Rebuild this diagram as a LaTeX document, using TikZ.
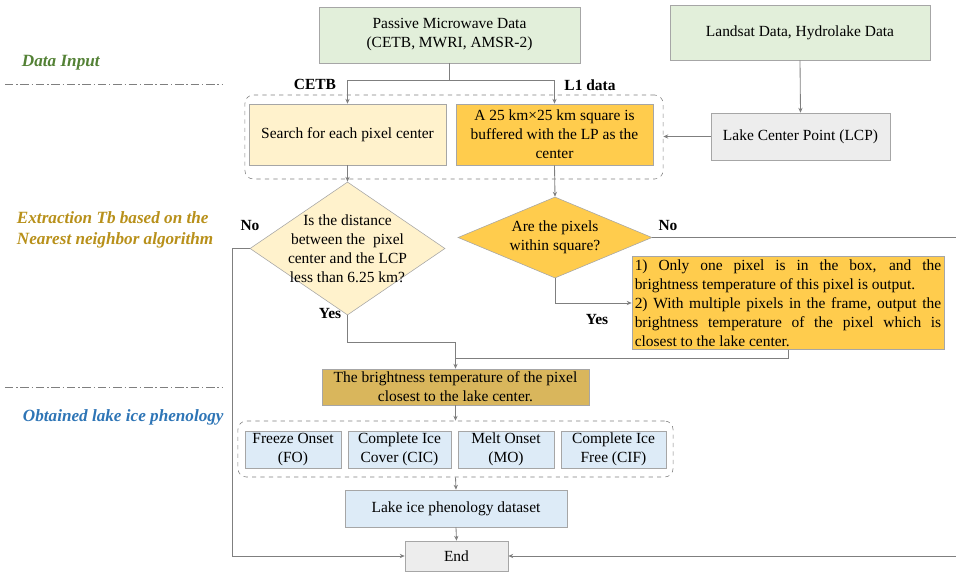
\documentclass[tikz,border=0pt]{standalone}
\usepackage{fontspec}
\setmainfont{Liberation Serif}
\usetikzlibrary{shapes.geometric, arrows.meta}

\definecolor{boxgreen}{HTML}{E2EFDA}
\definecolor{paleyellow}{HTML}{FFF2CC}
\definecolor{deepyellow}{HTML}{FFCC4D}
\definecolor{ochre}{HTML}{D9B65C}
\definecolor{paleblue}{HTML}{DDEBF7}
\definecolor{palegray}{HTML}{EDEDED}
\definecolor{edgegray}{HTML}{A6A6A6}
\definecolor{linegray}{HTML}{7F7F7F}
\definecolor{inputgreen}{HTML}{538135}
\definecolor{extractgold}{HTML}{B8901A}
\definecolor{phenoblue}{HTML}{2E75B6}

\begin{document}
\begin{tikzpicture}[x=0.025cm, y=-0.025cm,
    every node/.style={font=\fontsize{11}{13.5}\selectfont},
    box/.style={draw=edgegray, rectangle, align=center, inner sep=2pt},
    decision/.style={draw=edgegray, diamond, align=center, inner sep=0pt},
    group/.style={draw=linegray, dashed, rounded corners=6pt, rectangle},
    link/.style={draw=linegray, line width=0.6pt},
    arr/.style={link, -{Stealth[length=3.5pt, width=3pt]}},
    lab/.style={font=\fontsize{11}{13.5}\selectfont\bfseries},
    stage/.style={anchor=west, align=left, font=\fontsize{12.2}{15}\selectfont\bfseries\itshape},
    sep/.style={draw=linegray, dash pattern=on 6pt off 2pt on 1pt off 2pt}]
    \useasboundingbox (0,0) rectangle (956,573);

    % stages on the left
    \node[stage, text=inputgreen] (tin) at (17,63) {Data Input};
    \node[stage, text=extractgold] (tex) at (12,230) {Extraction Tb based on the\\Nearest neighbor algorithm};
    \node[stage, text=phenoblue] (tph) at (18,417) {Obtained lake ice phenology};
    \coordinate (s1a) at (5,84);
    \coordinate (s1b) at (222,84);
    \coordinate (s2a) at (5,387);
    \coordinate (s2b) at (222,387);
    \draw[sep] (s1a) -- (s1b);
    \draw[sep] (s2a) -- (s2b);

    % data input
    \node[box, fill=boxgreen, minimum width=6.525cm, minimum height=1.4cm] (pmd) at (449.5,35) {Passive Microwave Data\\(CETB, MWRI, AMSR-2)};
    \node[box, fill=boxgreen, minimum width=6.5cm, minimum height=1.375cm] (land) at (800,32.5) {Landsat Data, Hydrolake Data};

    \node[group, minimum width=10.45cm, minimum height=2.1cm] (grp1) at (454,137) {};
    \node[box, fill=paleyellow, minimum width=4.925cm, minimum height=1.525cm] (search) at (347.5,134.5) {Search for each pixel center};
    \node[box, fill=deepyellow, minimum width=4.925cm, minimum height=1.525cm, inner ysep=0.5pt] (square) at (554.5,134.5) {A 25 km×25 km square is\\buffered with the LP as the\\center};
    \node[box, fill=palegray, minimum width=4.475cm, minimum height=1.175cm] (lcp) at (800.5,136.5) {Lake Center Point (LCP)};

    % extraction
    \node[decision, fill=paleyellow, minimum width=4.875cm, minimum height=3.325cm, shape aspect=1.47, inner sep=-5pt] (near) at (347.5,248.5) {Is the distance\\between the\ \ pixel\\center and the LCP\\less than 6.25 km?};
    \node[decision, fill=deepyellow, minimum width=4.85cm, minimum height=2.025cm, shape aspect=2.4] (within) at (555,237.5) {Are the pixels\\within square?};
    \node[box, fill=deepyellow, text width=7.66cm, align=justify, minimum height=2.25cm] (rule) at (788,303) {1) Only one pixel is in the box, and the\linebreak brightness temperature of this pixel is output.\\2) With multiple pixels in the frame, output the\linebreak brightness temperature of the pixel which is\linebreak closest to the lake center.};
    \node[box, fill=ochre, minimum width=6.675cm, minimum height=0.9cm, inner ysep=0.5pt] (bright) at (455.5,387) {The brightness temperature of the pixel\\closest to the lake center.};

    % phenology
    \node[group, minimum width=10.875cm, minimum height=1.4cm] (grp2) at (455.5,449) {};
    \node[box, fill=paleblue, minimum width=2.4cm, minimum height=0.925cm, inner ysep=0.5pt] (fo) at (293,449.5) {Freeze Onset\\(FO)};
    \node[box, fill=paleblue, minimum width=2.575cm, minimum height=0.925cm, inner ysep=0.5pt] (cic) at (399.5,449.5) {Complete Ice\\Cover (CIC)};
    \node[box, fill=paleblue, minimum width=2.4cm, minimum height=0.925cm, inner ysep=0.5pt] (mo) at (506,449.5) {Melt Onset\\(MO)};
    \node[box, fill=paleblue, minimum width=2.625cm, minimum height=0.925cm, inner ysep=0.5pt] (cif) at (613.5,449.5) {Complete Ice\\Free (CIF)};
    \node[box, fill=paleblue, minimum width=5.55cm, minimum height=0.925cm] (dataset) at (456,508.5) {Lake ice phenology dataset};
    \node[box, fill=palegray, minimum width=2.575cm, minimum height=0.75cm] (end) at (456.5,556) {End};

    % connectors
    \coordinate (split) at (449.5,80);
    \draw[link] (pmd.south) -- (split);
    \draw[arr] (split) -| (search.north);
    \draw[arr] (split) -| (square.north);
    \node[lab] (cetb) at (315,84) {CETB};
    \node[lab] (l1) at (590,85) {L1 data};
    \draw[arr] (land.south) -- (lcp.north);
    \draw[arr] (lcp.west) -- (lcp.west -| grp1.east);
    \draw[arr] (search.south) -- (near.north);
    \draw[arr] (square.south) -- (within.north);

    \coordinate (noR) at (970,237.5);
    \draw[arr] (within.east) -- (noR) |- (end.east);
    \draw[arr] (near.west) -- ++(-17,0) |- (end.west);
    \draw[arr] (near.south) -- ++(0,27) -| (bright.north);
    \draw[arr] (within.south) |- (rule.west);
    \coordinate (meet) at (455.5,358);
    \draw[link] (rule.south) |- (meet);
    \node[lab] (noleft) at (250,226) {No};
    \node[lab] (yesleft) at (330,314) {Yes};
    \node[lab] (noright) at (668,226) {No};
    \node[lab] (yesright) at (597,320) {Yes};

    \draw[arr] (bright.south) -- (grp2.north);
    \draw[arr] (grp2.south) -- (dataset.north);
    \draw[arr] (dataset.south) -- (end.north);
\end{tikzpicture}
\end{document}
